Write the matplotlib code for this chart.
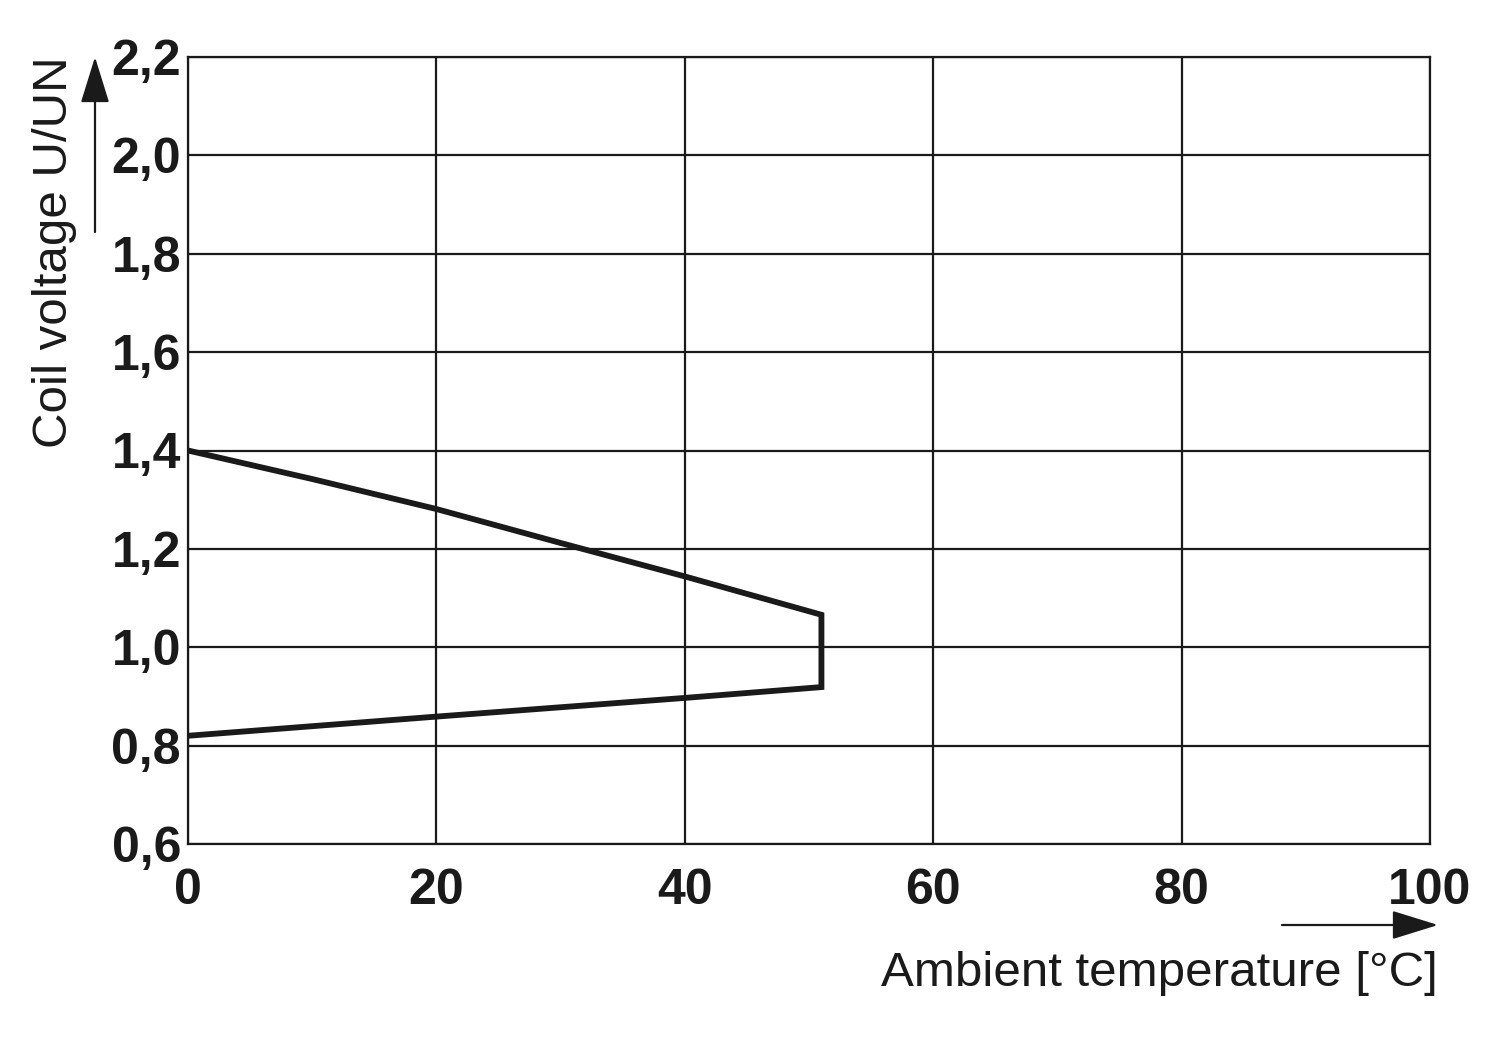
import matplotlib
matplotlib.use("Agg")
import matplotlib.pyplot as plt

# Data
upper_temp = [0, 10, 20, 30, 40, 51]
upper_volt = [1.40, 1.342, 1.281, 1.212, 1.144, 1.066]
lower_temp = [51, 40, 20, 0]
lower_volt = [0.919, 0.897, 0.859, 0.82]

x_ticks = [0, 20, 40, 60, 80, 100]
y_ticks = [0.6, 0.8, 1.0, 1.2, 1.4, 1.6, 1.8, 2.0, 2.2]
y_tick_labels = ["0,6", "0,8", "1,0", "1,2", "1,4", "1,6", "1,8", "2,0", "2,2"]

plt.rcParams['font.family'] = ['Liberation Sans', 'DejaVu Sans']

W, H = 1500, 1055
fig = plt.figure(figsize=(W / 100, H / 100), dpi=100)
ax = fig.add_axes([188 / W, 1 - 844 / H, (1430 - 188) / W, (844 - 57) / H])

# upper branch, vertical edge at 51 degC, lower branch
xs = upper_temp + lower_temp
ys = upper_volt + lower_volt
ax.plot(xs, ys, color='#1a1a1a', lw=4.2, solid_joinstyle='miter', solid_capstyle='round')

ax.set_xlim(0, 100)
ax.set_ylim(0.6, 2.2)
ax.set_xticks(x_ticks)
ax.set_xticklabels([str(t) for t in x_ticks])
ax.set_yticks(y_ticks)
ax.set_yticklabels(y_tick_labels)
ax.grid(True, color='#1a1a1a', lw=1.6)
ax.set_axisbelow(True)
for sp in ax.spines.values():
    sp.set_linewidth(1.6)
    sp.set_color('#1a1a1a')
ax.tick_params(length=0, labelsize=36, colors='#1a1a1a')
ax.tick_params(axis='x', pad=17)
ax.tick_params(axis='y', pad=5)
for lab in ax.get_xticklabels() + ax.get_yticklabels():
    lab.set_fontweight('bold')

# axis titles with arrows
fig.text(1438 / W, 1 - 973 / H, "Ambient temperature [°C]", fontsize=35.5,
         ha='right', va='center', color='#1a1a1a')
fig.text(55 / W, 1 - 252 / H, "Coil voltage U/UN", fontsize=35.5, rotation=90,
         ha='center', va='center', color='#1a1a1a')

arrow = dict(arrowstyle='-|>,head_length=1.45,head_width=0.45', lw=1.6, color='#1a1a1a',
             shrinkA=0, shrinkB=0, mutation_scale=20)
ax.annotate("", xy=(1438 / W, 1 - 925 / H), xytext=(1282 / W, 1 - 925 / H),
            xycoords='figure fraction', textcoords='figure fraction', arrowprops=arrow)
ax.annotate("", xy=(95 / W, 1 - 57 / H), xytext=(95 / W, 1 - 232 / H),
            xycoords='figure fraction', textcoords='figure fraction', arrowprops=arrow)

fig.savefig("out.png", dpi=100, facecolor='white')
